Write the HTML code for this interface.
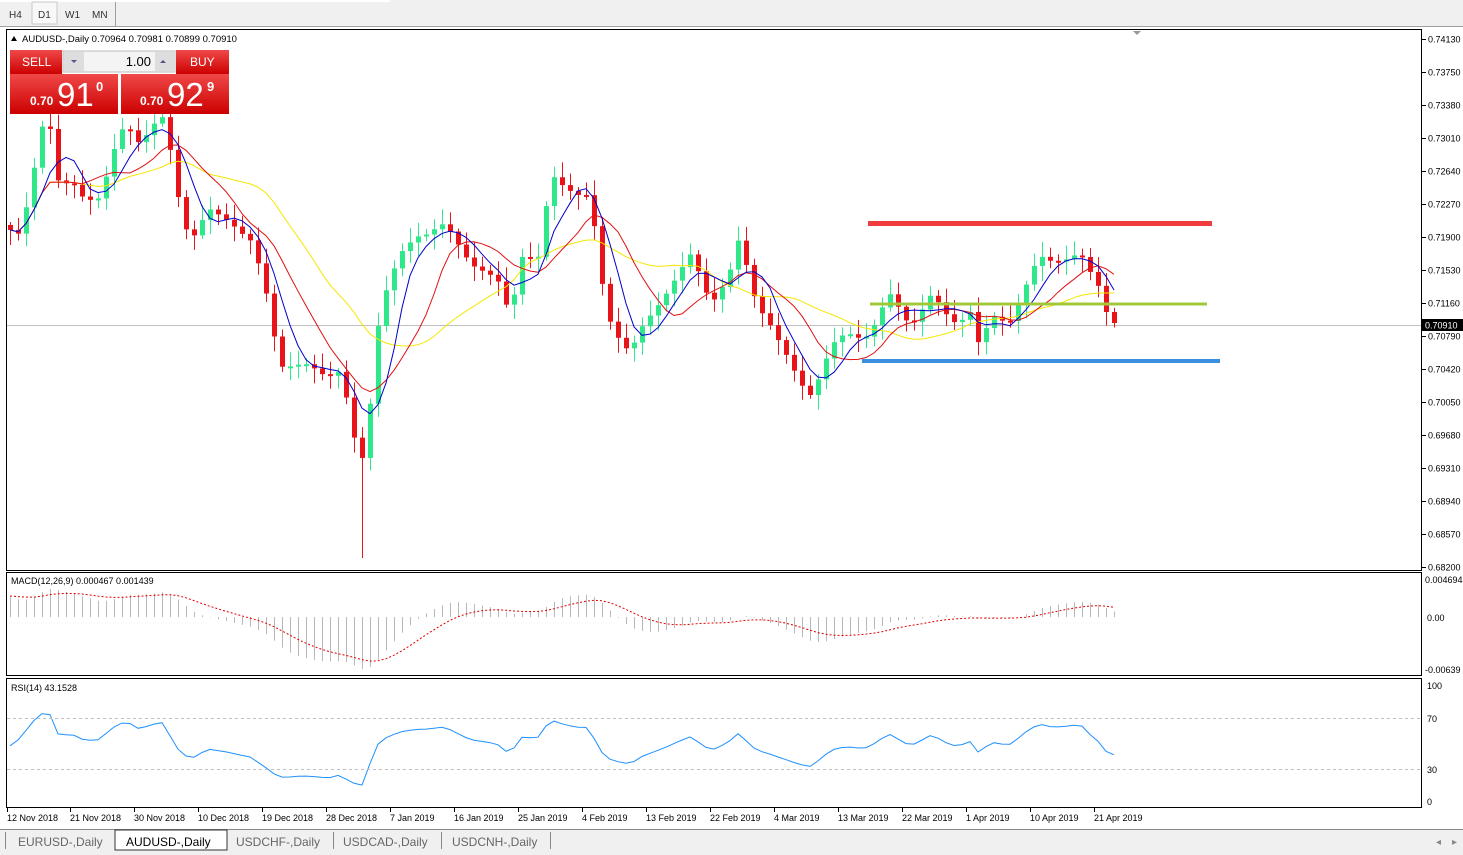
<!DOCTYPE html>
<html><head><meta charset="utf-8"><style>
body{margin:0;width:1463px;height:855px;background:#fff;font-family:"Liberation Sans",sans-serif;overflow:hidden;position:relative}
svg{position:absolute;left:0;top:0}
</style></head><body>
<svg id="s" width="1463" height="855" xmlns="http://www.w3.org/2000/svg" font-family="Liberation Sans, sans-serif">
<rect x="0" y="0" width="1463" height="27" fill="#f0f0f0"/>
<rect x="0" y="0" width="390" height="2" fill="#fff"/>
<line x1="0" y1="26.5" x2="1463" y2="26.5" stroke="#a0a0a0"/>
<rect x="32" y="2" width="25" height="22" fill="#f8f8f8" stroke="#c8c8c8"/>
<line x1="115.5" y1="2" x2="115.5" y2="26" stroke="#a0a0a0"/>
<text x="9" y="18" font-size="10" fill="#333">H4</text>
<text x="38" y="18" font-size="10" fill="#333">D1</text>
<text x="65" y="18" font-size="10" fill="#333">W1</text>
<text x="92" y="18" font-size="10" fill="#333">MN</text>
<rect x="6.5" y="29.5" width="1415" height="541" fill="none" stroke="#000"/>
<rect x="6.5" y="572.5" width="1415" height="103" fill="none" stroke="#000"/>
<rect x="6.5" y="678.5" width="1415" height="129" fill="none" stroke="#000"/>
<line x1="7" y1="325.5" x2="1421" y2="325.5" stroke="#c0c0c0"/>
<polygon points="1133,31 1141,31 1137,35" fill="#999"/>
<g id="ax" font-size="9" fill="#000"></g>
<g id="ch"></g>
<rect x="868" y="221" width="344" height="5" fill="#f03c3c"/>
<rect x="870" y="302.5" width="337" height="3" fill="#a2c83a"/>
<rect x="862" y="359" width="358" height="4" fill="#3a8fe0"/>
<rect x="1422" y="319" width="41" height="12" fill="#000"/>
<text x="1425" y="328.5" font-size="9" fill="#fff">0.70910</text>
<polygon points="11,41 17,41 14,36" fill="#000"/>
<text x="22" y="42" font-size="9.5">AUDUSD-,Daily  0.70964 0.70981 0.70899 0.70910</text>
<defs><linearGradient id="g" x1="0" y1="0" x2="0" y2="1"><stop offset="0" stop-color="#f04848"/><stop offset="1" stop-color="#c00"/></linearGradient></defs>
<rect x="10" y="50" width="52" height="24" fill="url(#g)"/>
<rect x="176" y="50" width="53" height="24" fill="url(#g)"/>
<rect x="10" y="74" width="108" height="40" fill="url(#g)"/>
<rect x="121" y="74" width="108" height="40" fill="url(#g)"/>
<rect x="63" y="51" width="112" height="21" fill="#f4f4f4" stroke="#bbb"/>
<rect x="64" y="52" width="20" height="19" fill="#ddd"/><rect x="155" y="52" width="20" height="19" fill="#ddd"/>
<polygon points="71,60 77,60 74,63" fill="#558"/><polygon points="160,63 166,63 163,60" fill="#558"/>
<text x="151" y="66" font-size="13" text-anchor="end">1.00</text>
<text x="22" y="66" font-size="12" fill="#fff">SELL</text>
<text x="190" y="66" font-size="12" fill="#fff">BUY</text>
<text x="30" y="105" font-size="12" fill="#fff" font-weight="bold">0.70</text>
<text x="57" y="106" font-size="33" fill="#fff">91</text>
<text x="96" y="91" font-size="13" fill="#fff" font-weight="bold">0</text>
<text x="140" y="105" font-size="12" fill="#fff" font-weight="bold">0.70</text>
<text x="167" y="106" font-size="33" fill="#fff">92</text>
<text x="207" y="91" font-size="13" fill="#fff" font-weight="bold">9</text>
<text x="11" y="584" font-size="9">MACD(12,26,9) 0.000467 0.001439</text>
<text x="11" y="691" font-size="9">RSI(14) 43.1528</text>
<line x1="7" y1="718.5" x2="1421" y2="718.5" stroke="#c0c0c0" stroke-dasharray="3,3"/>
<line x1="7" y1="769.5" x2="1421" y2="769.5" stroke="#c0c0c0" stroke-dasharray="3,3"/>
<g font-size="9"><text x="1425" y="583">0.004694</text><text x="1427" y="621">0.00</text><text x="1425" y="673">-0.00639</text>
<text x="1427" y="689">100</text><text x="1427" y="722">70</text><text x="1427" y="773">30</text><text x="1427" y="805">0</text></g>
<rect x="0" y="829" width="1463" height="26" fill="#f0f0f0"/>
<line x1="0" y1="829.5" x2="1463" y2="829.5" stroke="#888"/>
<rect x="115" y="830" width="112" height="20" fill="#fff" stroke="#333"/>
<g font-size="12" fill="#666"><text x="18" y="846">EURUSD-,Daily</text><text x="126" y="846" fill="#000">AUDUSD-,Daily</text><text x="236" y="846">USDCHF-,Daily</text><text x="343" y="846">USDCAD-,Daily</text><text x="452" y="846">USDCNH-,Daily</text></g>
<g stroke="#888"><line x1="5.5" y1="832" x2="5.5" y2="849"/><line x1="333.5" y1="832" x2="333.5" y2="849"/><line x1="441.5" y1="832" x2="441.5" y2="849"/><line x1="550.5" y1="832" x2="550.5" y2="849"/></g>
<text x="1436" y="845" font-size="10" fill="#888">◂</text><text x="1452" y="845" font-size="10" fill="#888">▸</text>
</svg>
<script>
var NS="http://www.w3.org/2000/svg",ch=document.getElementById('ch'),ax=document.getElementById('ax');
function el(t,a,p){var e=document.createElementNS(NS,t);for(var k in a)e.setAttribute(k,a[k]);(p||ch).appendChild(e);return e;}
function tx(x,y,s,p,a){var e=el('text',Object.assign({x:x,y:y},a||{}),p);e.textContent=s;}
var prices=["0.74130","0.73750","0.73380","0.73010","0.72640","0.72270","0.71900","0.71530","0.71160","0.70790","0.70420","0.70050","0.69680","0.69310","0.68940","0.68570","0.68200"];
prices.forEach(function(p,i){var y=39+i*33;el('line',{x1:1422,y1:y+.5,x2:1426,y2:y+.5,stroke:'#000'});tx(1428,y+3.5,p,ax);});
var dates=[[7,"12 Nov 2018"],[70,"21 Nov 2018"],[134,"30 Nov 2018"],[198,"10 Dec 2018"],[262,"19 Dec 2018"],[326,"28 Dec 2018"],[390,"7 Jan 2019"],[454,"16 Jan 2019"],[518,"25 Jan 2019"],[582,"4 Feb 2019"],[646,"13 Feb 2019"],[710,"22 Feb 2019"],[774,"4 Mar 2019"],[838,"13 Mar 2019"],[902,"22 Mar 2019"],[966,"1 Apr 2019"],[1030,"10 Apr 2019"],[1094,"21 Apr 2019"]];
dates.forEach(function(d){el('line',{x1:d[0]+.5,y1:808,x2:d[0]+.5,y2:812,stroke:'#000'});tx(d[0],821,d[1],ax);});
var K=[[8,230],[15,250],[30,190],[40,120],[50,130],[60,200],[70,180],[80,190],[100,200],[110,170],[120,130],[130,125],[140,140],[165,120],[175,180],[190,240],[210,215],[230,215],[250,245],[265,290],[280,360],[300,370],[320,370],[340,370],[360,475],[370,400],[380,300],[400,260],[420,230],[440,225],[460,250],[480,265],[500,290],[510,320],[520,250],[540,260],[550,180],[570,185],[590,200],[600,280],[610,320],[630,350],[650,320],[670,280],[690,260],[710,300],[730,270],[740,240],[750,290],[770,320],[790,370],[800,385],[810,390],[830,350],[850,335],[870,330],[890,300],[910,320],[930,300],[950,320],[970,310],[980,355],[990,320],[1010,315],[1020,300],[1040,260],[1060,255],[1080,260],[1090,275],[1100,285],[1110,320],[1120,323]];
function iy(x){for(var i=0;i<K.length-1;i++)if(x<=K[i+1][0]){var a=K[i],b=K[i+1];return a[1]+(b[1]-a[1])*(x-a[0])/(b[0]-a[0]);}return K[K.length-1][1];}
var C=[],X=[];for(var x=10;x<=1120;x+=8){X.push(x);C.push(iy(x)+Math.sin(x*1.7)*6);}
C[C.length-1]=323;
function yp(y){return 0.7413-(y-39)/8904;}
var P=C.map(yp);
for(var i=0;i<C.length;i++){var o=i?C[i-1]:C[0]-5,c=C[i];var hi=Math.min(o,c)-3-Math.abs(Math.sin(i*2.3))*12,lo=Math.max(o,c)+3+Math.abs(Math.cos(i*1.9))*12;if(i==44)lo=558;var col=c<o?'#2ee88a':'#e8141a';
el('line',{x1:X[i]+.5,y1:hi,x2:X[i]+.5,y2:lo,stroke:col});var t=Math.min(o,c),h=Math.max(2,Math.abs(o-c));el('rect',{x:X[i]-2,y:t,width:5,height:h,fill:col});}
function sma(n){var r=[];for(var i=0;i<C.length;i++){var s=0,k=0;for(var j=Math.max(0,i-n+1);j<=i;j++){s+=C[j];k++;}r.push(s/k);}return r;}
function line(v,col,dash){var d='';v.forEach(function(y,i){if(y==null)return;d+=(d?'L':'M')+X[i]+','+y.toFixed(1);});el('path',{d:d,fill:'none',stroke:col,'stroke-width':1,'stroke-dasharray':dash||''});}
line(sma(20),'#f5e600');line(sma(10),'#e01010');line(sma(5),'#0000cc');
function ema(a,n,s0){var k=2/(n+1),r=[s0];for(var i=1;i<a.length;i++)r.push(a[i]*k+r[i-1]*(1-k));return r;}
var e12=ema(P,12,P[0]+0.001),e26=ema(P,26,P[0]-0.0015),m=P.map(function(_,i){return e12[i]-e26[i];});
var sg=[];var ks=0.2;sg[0]=0.0026;for(var i=1;i<m.length;i++)sg.push(m[i]*ks+sg[i-1]*(1-ks));
var sc=38/0.004694;
m.forEach(function(v,i){el('line',{x1:X[i]+.5,y1:617,x2:X[i]+.5,y2:617-v*sc,stroke:'#b8b8b8'});});
line(sg.map(function(v){return 617-v*sc;}),'#e00000','2,2');
var R=[],ag=0.0006,al=0.0005;for(var i=1;i<P.length;i++){var d=P[i]-P[i-1],g=Math.max(d,0),l=Math.max(-d,0);ag=(ag*13+g)/14;al=(al*13+l)/14;R[i]=al==0?100:100-100/(1+ag/al);}
R[0]=48;line(R.map(function(v){return 801-v*1.15;}),'#1e90ff');
</script>
</body></html>
